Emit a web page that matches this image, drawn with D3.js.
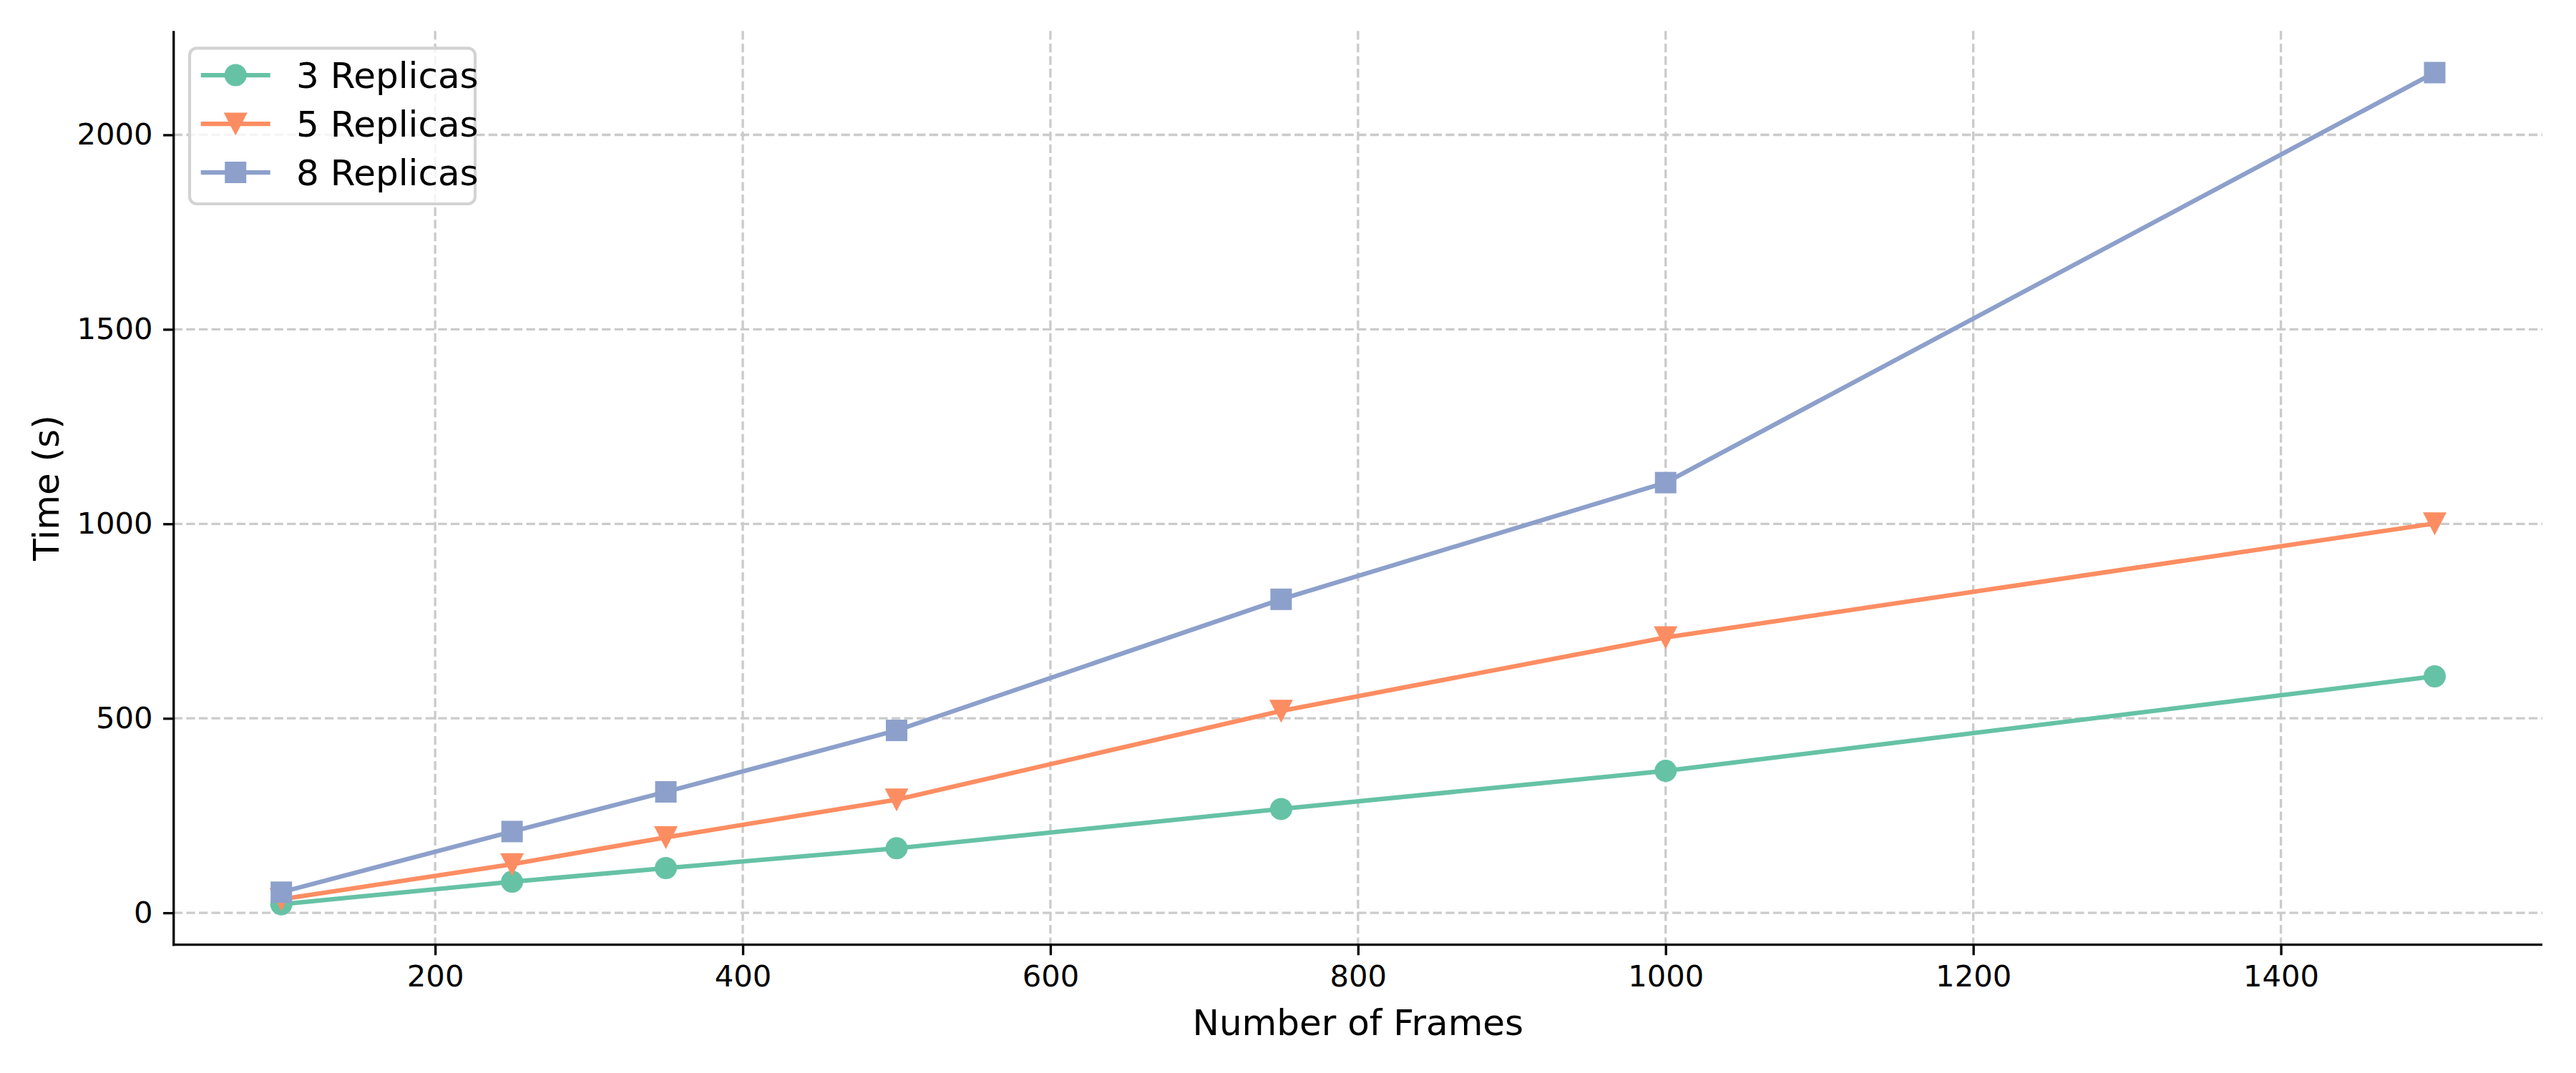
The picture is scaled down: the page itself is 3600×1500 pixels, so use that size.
<!DOCTYPE html>
<html>
<head>
<meta charset="utf-8">
<script src="https://cdn.jsdelivr.net/npm/d3@7"></script>
<style>
  html, body { margin: 0; padding: 0; background: #ffffff; }
  svg { display: block; font-family: "DejaVu Sans", sans-serif; }
</style>
</head>
<body>
<svg id="chart" width="3600" height="1500"></svg>
<script>
// ---- data ----
const frames = [100, 250, 350, 500, 750, 1000, 1500];
const replicas3 = [22, 80, 115, 166, 267, 365, 608];
const replicas5 = [35, 125, 194, 291, 519, 708, 1001];
const replicas8 = [53, 209, 311, 469, 806, 1106, 2160];
const seriesNames = ["3 Replicas", "5 Replicas", "8 Replicas"];
const seriesColors = ["#66c2a5", "#fc8d62", "#8da0cb"];
const seriesMarkers = ["circle", "triangleDown", "square"];
const xTicks = [200, 400, 600, 800, 1000, 1200, 1400];
const yTicks = [0, 500, 1000, 1500, 2000];
const xLabel = "Number of Frames";
const yLabel = "Time (s)";

const series = [replicas3, replicas5, replicas8].map((vals, i) => ({
  name: seriesNames[i], color: seriesColors[i], marker: seriesMarkers[i],
  points: frames.map((f, j) => ({ x: f, y: vals[j] }))
}));

// ---- layout ----
const plot = { left: 242.7, right: 3553, top: 43.3, bottom: 1320.7 };
const svg = d3.select("#chart");

const x = d3.scaleLinear().domain([30, 1570]).range([plot.left, plot.right]);
const y = d3.scaleLinear().domain([-82, 2267]).range([plot.bottom, plot.top]);

const tickFont = 41.7, labelFont = 50;
const gridColor = "#cbcbcb";

// grid
const grid = svg.append("g");
grid.selectAll("line.vx").data(xTicks).join("line")
  .attr("x1", d => x(d)).attr("x2", d => x(d))
  .attr("y1", plot.top).attr("y2", plot.bottom)
  .attr("stroke", gridColor).attr("stroke-width", 3.33)
  .attr("stroke-dasharray", "12.3,5.3");
grid.selectAll("line.hy").data(yTicks).join("line")
  .attr("y1", d => y(d)).attr("y2", d => y(d))
  .attr("x1", plot.left).attr("x2", plot.right)
  .attr("stroke", gridColor).attr("stroke-width", 3.33)
  .attr("stroke-dasharray", "12.3,5.3");

// axes
const xAxis = d3.axisBottom(x).tickValues(xTicks).tickSize(14.6).tickPadding(12).tickFormat(d3.format("d"));
const yAxis = d3.axisLeft(y).tickValues(yTicks).tickSize(14.6).tickPadding(14.6).tickFormat(d3.format("d"));

const gx = svg.append("g").attr("transform", `translate(0,${plot.bottom})`).call(xAxis);
const gy = svg.append("g").attr("transform", `translate(${plot.left},0)`).call(yAxis);
[gx, gy].forEach(g => {
  g.select(".domain").remove();
  g.selectAll(".tick line").attr("stroke", "#000").attr("stroke-width", 3.33);
  g.selectAll(".tick text").attr("fill", "#000").style("font-size", tickFont + "px")
    .style("font-family", "DejaVu Sans");
});
gx.selectAll(".tick text").attr("dy", "0.75em");

// spines
svg.append("line").attr("x1", plot.left).attr("x2", plot.left)
  .attr("y1", plot.top).attr("y2", plot.bottom + 1.66)
  .attr("stroke", "#000").attr("stroke-width", 3.33);
svg.append("line").attr("x1", plot.left - 1.66).attr("x2", plot.right)
  .attr("y1", plot.bottom).attr("y2", plot.bottom)
  .attr("stroke", "#000").attr("stroke-width", 3.33);

// axis labels
svg.append("text").attr("x", (plot.left + plot.right) / 2).attr("y", 1447)
  .attr("text-anchor", "middle").style("font-size", labelFont + "px").text(xLabel);
svg.append("text")
  .attr("transform", `translate(82,${(plot.top + plot.bottom) / 2}) rotate(-90)`)
  .attr("text-anchor", "middle").style("font-size", labelFont + "px").text(yLabel);

// marker drawing
const ms = 31;
function drawMarker(g, type, cx, cy, color) {
  const r = ms / 2;
  if (type === "circle") {
    g.append("circle").attr("cx", cx).attr("cy", cy).attr("r", r).attr("fill", color);
  } else if (type === "square") {
    g.append("rect").attr("x", cx - r + 0.5).attr("y", cy - r + 0.5).attr("width", ms - 1).attr("height", ms - 1).attr("fill", color);
  } else {
    g.append("path").attr("d", `M${cx},${cy + r + 1}L${cx - r - 1},${cy - r}L${cx + r + 1},${cy - r}Z`).attr("fill", color);
  }
}

// series
const line = d3.line().x(d => x(d.x)).y(d => y(d.y));
series.forEach(s => {
  const g = svg.append("g");
  g.append("path").datum(s.points).attr("d", line)
    .attr("fill", "none").attr("stroke", s.color).attr("stroke-width", 6.25)
    .attr("stroke-linejoin", "round").attr("stroke-linecap", "butt");
  s.points.forEach(p => drawMarker(g, s.marker, x(p.x), y(p.y), s.color));
});

// legend
const leg = svg.append("g");
leg.append("rect").attr("x", 265).attr("y", 67.3).attr("width", 399).attr("height", 217.7)
  .attr("rx", 10).attr("ry", 10)
  .attr("fill", "#ffffff").attr("fill-opacity", 0.8)
  .attr("stroke", "#d3d3d3").attr("stroke-width", 4.17);
const rowY = [105, 173, 241];
series.forEach((s, i) => {
  const cy = rowY[i];
  leg.append("line").attr("x1", 280.7).attr("x2", 377.7).attr("y1", cy).attr("y2", cy)
    .attr("stroke", s.color).attr("stroke-width", 6.25);
  drawMarker(leg, s.marker, 329.2, cy, s.color);
  leg.append("text").attr("x", 414).attr("y", cy + 18)
    .style("font-size", labelFont + "px").attr("fill", "#000").text(s.name);
});
</script>
</body>
</html>
